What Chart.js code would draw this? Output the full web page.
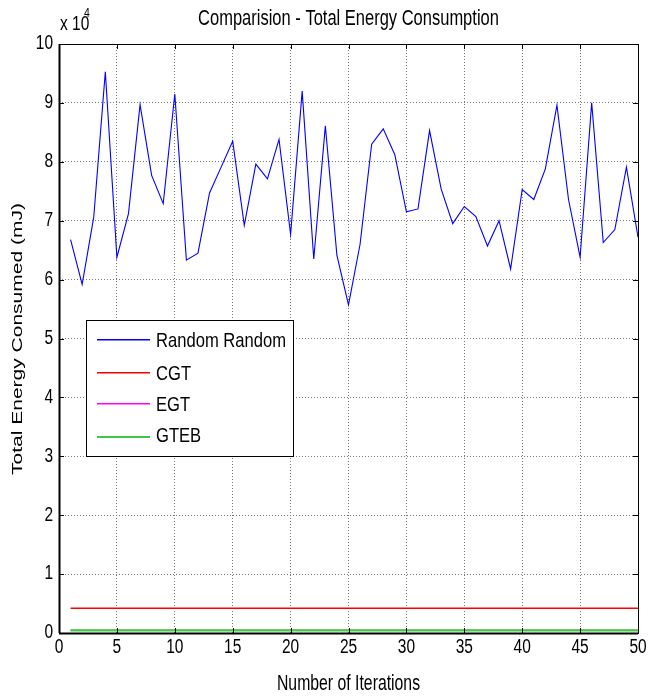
<!DOCTYPE html>
<html>
<head>
<meta charset="utf-8">
<title>Total Energy Consumption</title>
<script src="https://cdn.jsdelivr.net/npm/chart.js@4/dist/chart.umd.min.js"></script>
<style>
  html, body { margin: 0; padding: 0; background: #fff; }
  #wrap { width: 649px; height: 697px; }
</style>
</head>
<body>
<div id="wrap"><canvas id="energyChart"></canvas></div>
<script>
// iteration numbers on the x axis
const iterations = [1, 2, 3, 4, 5, 6, 7, 8, 9, 10, 11, 12, 13, 14, 15, 16, 17, 18, 19, 20,
  21, 22, 23, 24, 25, 26, 27, 28, 29, 30, 31, 32, 33, 34, 35, 36, 37, 38, 39, 40,
  41, 42, 43, 44, 45, 46, 47, 48, 49, 50];

// total energy (mJ) for the random strategy, one per iteration
const randomEnergy = [66800, 59200, 70600, 95300, 63800, 71200, 89700, 77700, 72900, 91500,
  63300, 64500, 74700, 79100, 83500, 69200, 79600, 77100, 83800, 67700,
  92000, 63500, 86100, 64100, 55700, 66000, 83000, 85600, 81200, 71500,
  72000, 85300, 75400, 69500, 72400, 70700, 65700, 70000, 61800, 75300,
  73600, 78800, 89600, 73600, 63800, 90000, 66300, 68500, 79100, 67200];

// the game-theory schemes stay flat over all iterations
const flatX = [1, 50];
const cgtEnergy = [4200, 4200];
const egtEnergy = [450, 450];
const gtebEnergy = [450, 450];

const xTicks = [0, 5, 10, 15, 20, 25, 30, 35, 40, 45, 50];
const yTicks = [0, 1, 2, 3, 4, 5, 6, 7, 8, 9, 10];   // in units of 10^4

const FONT = '"Liberation Sans", Arial, sans-serif';

function pts(xs, ys) {
  return xs.map((x, i) => ({ x: x, y: ys[i] }));
}

// text is drawn a bit taller than wide, like the exported figure
function tallText(ctx, text, x, y, size, sy, align, angle) {
  ctx.save();
  ctx.translate(x, y);
  ctx.scale(1, sy);
  if (angle) ctx.rotate(angle);
  ctx.font = size + 'px ' + FONT;
  ctx.textAlign = align || 'center';
  ctx.textBaseline = 'middle';
  ctx.fillText(text, 0, 0);
  ctx.restore();
}

// titles, tick labels, inward ticks and the boxed legend
const decorations = {
  id: 'decorations',
  afterDraw(chart) {
    const ctx = chart.ctx;
    const a = chart.chartArea;
    const xs = chart.scales.x, ys = chart.scales.y;
    ctx.save();
    ctx.setLineDash([]);
    ctx.globalAlpha = 1;

    // axes box
    ctx.strokeStyle = '#000';
    ctx.lineWidth = 1;
    ctx.strokeRect(a.left + 0.5, a.top + 0.5, a.right - a.left, a.bottom - a.top);
    ctx.lineWidth = 2;
    ctx.beginPath();
    ctx.moveTo(a.left, a.bottom + 0.5);
    ctx.lineTo(a.right, a.bottom + 0.5);
    ctx.moveTo(a.left + 0.5, a.top);
    ctx.lineTo(a.left + 0.5, a.bottom);
    ctx.stroke();

    // short tick marks pointing inside on all four sides
    ctx.lineWidth = 1;
    ctx.beginPath();
    xTicks.forEach(v => {
      const px = Math.round(xs.getPixelForValue(v)) + 0.5;
      ctx.moveTo(px, a.bottom); ctx.lineTo(px, a.bottom - 5);
      ctx.moveTo(px, a.top); ctx.lineTo(px, a.top + 5);
    });
    yTicks.forEach(v => {
      const py = Math.round(ys.getPixelForValue(v * 10000)) + 0.5;
      ctx.moveTo(a.left, py); ctx.lineTo(a.left + 5, py);
      ctx.moveTo(a.right, py); ctx.lineTo(a.right - 5, py);
    });
    ctx.stroke();

    ctx.fillStyle = '#000';
    // tick labels
    xTicks.forEach(v => {
      tallText(ctx, String(v), xs.getPixelForValue(v), 648, 15.5, 1.25, 'center');
    });
    yTicks.forEach(v => {
      tallText(ctx, String(v), a.left - 6, ys.getPixelForValue(v * 10000), 15.5, 1.25, 'right');
    });

    tallText(ctx, 'Comparision - Total Energy Consumption', (a.left + a.right) / 2, 19, 16.5, 1.35);
    tallText(ctx, 'Number of Iterations', (a.left + a.right) / 2, 684, 15.8, 1.35);
    tallText(ctx, 'Total Energy Consumed (mJ)', 18, 339, 15, 1.4, 'center', -Math.PI / 2);

    // exponent for the y axis
    tallText(ctx, 'x 10', a.left + 1, 25, 15.5, 1.25, 'left');
    tallText(ctx, '4', a.left + 25, 13, 10.5, 1.25, 'left');

    // legend box
    const bx = 86, by = 320, bw = 207, bh = 136;
    ctx.fillStyle = '#fff';
    ctx.fillRect(bx, by, bw, bh);
    ctx.strokeStyle = '#000';
    ctx.lineWidth = 1;
    ctx.strokeRect(bx + 0.5, by + 0.5, bw, bh);
    const lineY = [339, 372, 403, 436];
    const textY = [342, 375, 406, 437];
    chart.data.datasets.forEach((ds, i) => {
      ctx.fillStyle = ds.borderColor;
      ctx.fillRect(97, lineY[i], 53, i === 3 ? 2 : 1.5);
      ctx.fillStyle = '#000';
      tallText(ctx, ds.label, 156, textY[i], 16.6, 1.2, 'left');
    });
    ctx.restore();
  }
};

new Chart(document.getElementById('energyChart'), {
  type: 'line',
  data: {
    datasets: [
      { label: 'Random Random', data: pts(iterations, randomEnergy), borderColor: '#0000ff', borderWidth: 1.1, order: 0 },
      { label: 'CGT', data: pts(flatX, cgtEnergy), borderColor: '#ff0000', borderWidth: 1.3, order: 3 },
      { label: 'EGT', data: pts(flatX, egtEnergy), borderColor: '#ff00ff', borderWidth: 1.3, order: 2 },
      { label: 'GTEB', data: pts(flatX, gtebEnergy), borderColor: '#40c840', borderWidth: 2.2, order: 1 }
    ]
  },
  options: {
    responsive: true,
    maintainAspectRatio: false,
    animation: false,
    layout: { padding: { top: 44, right: 11, left: 0, bottom: 0 } },
    elements: { point: { radius: 0 }, line: { tension: 0 } },
    plugins: { legend: { display: false }, tooltip: { enabled: false } },
    scales: {
      x: {
        type: 'linear', min: 0, max: 50,
        afterBuildTicks: s => { s.ticks = xTicks.map(v => ({ value: v })); },
        afterFit: s => { s.height = 64; },
        border: { display: false, dash: [1, 2] },
        grid: { color: '#777', drawTicks: false },
        ticks: { display: false }
      },
      y: {
        min: 0, max: 100000,
        afterBuildTicks: s => { s.ticks = yTicks.map(v => ({ value: v * 10000 })); },
        afterFit: s => { s.width = 59; },
        border: { display: false, dash: [1, 2] },
        grid: { color: '#777', drawTicks: false },
        ticks: { display: false }
      }
    }
  },
  plugins: [decorations]
});
</script>
</body>
</html>
